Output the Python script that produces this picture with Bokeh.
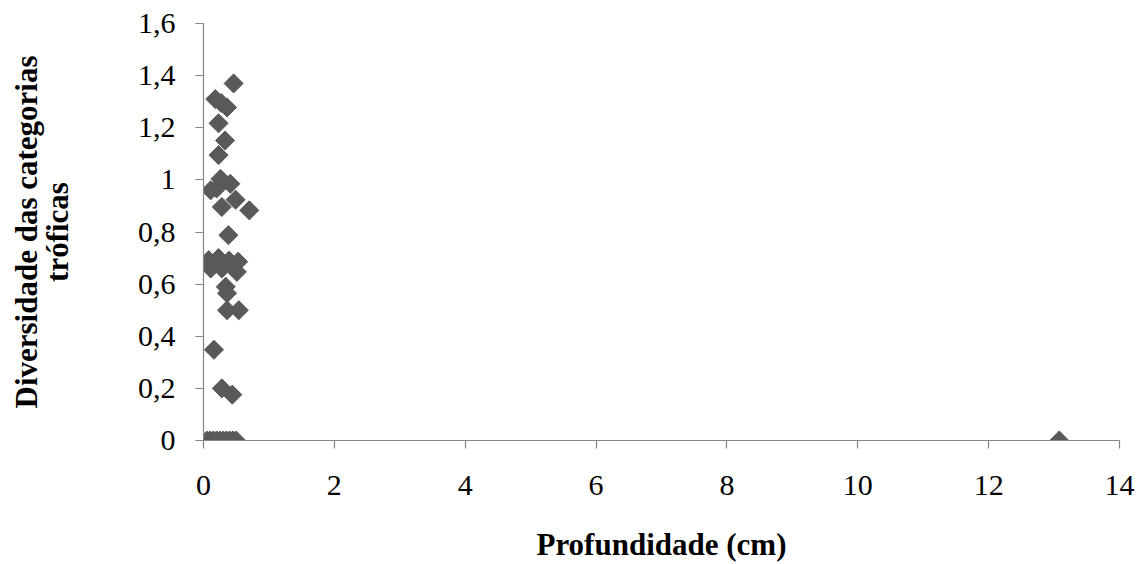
import math
from bokeh.plotting import figure
from bokeh.models import FixedTicker, Range1d
from bokeh.embed import file_html
from bokeh.resources import INLINE

depth = [0.46, 0.18, 0.27, 0.36, 0.23, 0.33, 0.23, 0.26, 0.41, 0.11, 0.20,
         0.28, 0.49, 0.70, 0.38, 0.08, 0.23, 0.39, 0.53, 0.51, 0.11, 0.28,
         0.34, 0.36, 0.36, 0.54, 0.16, 0.28, 0.44,
         0.05, 0.10, 0.15, 0.20, 0.25, 0.30, 0.35, 0.40, 0.45, 0.50, 13.08]
diversity = [1.37, 1.31, 1.295, 1.278, 1.217, 1.151, 1.095, 1.004, 0.985, 0.96, 0.967,
             0.896, 0.924, 0.883, 0.788, 0.692, 0.70, 0.69, 0.686, 0.647, 0.66, 0.66,
             0.59, 0.565, 0.50, 0.50, 0.348, 0.20, 0.176,
             0, 0, 0, 0, 0, 0, 0, 0, 0, 0, 0]

x_ticks = [0, 2, 4, 6, 8, 10, 12, 14]
y_ticks = [0, 0.2, 0.4, 0.6, 0.8, 1.0, 1.2, 1.4, 1.6]
y_tick_labels = ["0", "0,2", "0,4", "0,6", "0,8", "1", "1,2", "1,4", "1,6"]
x_title = "Profundidade (cm)"
y_title = "Diversidade das categorias\ntróficas"

FONT = "Liberation Serif"
AXIS_COLOR = "#868686"

p = figure(width=1143, height=564, output_backend="svg",
           toolbar_location=None,
           x_range=Range1d(0, 14), y_range=Range1d(0, 1.6),
           min_border_left=203, min_border_right=24, min_border_top=23,
           min_border_bottom=123)
p.outline_line_color = None
p.grid.visible = False
p.background_fill_color = "white"

p.scatter(depth, diversity, marker="square", size=13.5, angle=math.pi / 4,
          fill_color="#595959", line_color="#595959")

for ax in (p.xaxis[0], p.yaxis[0]):
    ax.axis_line_color = AXIS_COLOR
    ax.axis_line_width = 1.2
    ax.major_tick_line_color = AXIS_COLOR
    ax.major_tick_line_width = 1.2
    ax.minor_tick_line_color = None
    ax.major_tick_in = 0
    ax.major_tick_out = 8
    ax.major_label_text_font = FONT
    ax.major_label_text_font_size = "30px"
    ax.major_label_text_color = "black"
    ax.axis_label_text_font = FONT
    ax.axis_label_text_font_style = "bold"
    ax.axis_label_text_font_size = "31px"
    ax.axis_label_text_color = "black"

p.xaxis.ticker = FixedTicker(ticks=x_ticks)
p.yaxis.ticker = FixedTicker(ticks=y_ticks)
p.yaxis.major_label_overrides = {t: l for t, l in zip(y_ticks, y_tick_labels)}
p.xaxis.major_label_standoff = 27
p.yaxis.major_label_standoff = 20
p.xaxis.axis_label = x_title
p.xaxis.axis_label_standoff = 29
p.xaxis.major_label_text_line_height = 0.8
p.xaxis.axis_label_text_line_height = 0.8
p.yaxis.axis_label = y_title
p.yaxis.axis_label_text_line_height = 0.9
p.yaxis.axis_label_standoff = 60

open("out.html", "w").write(file_html(p, INLINE))
